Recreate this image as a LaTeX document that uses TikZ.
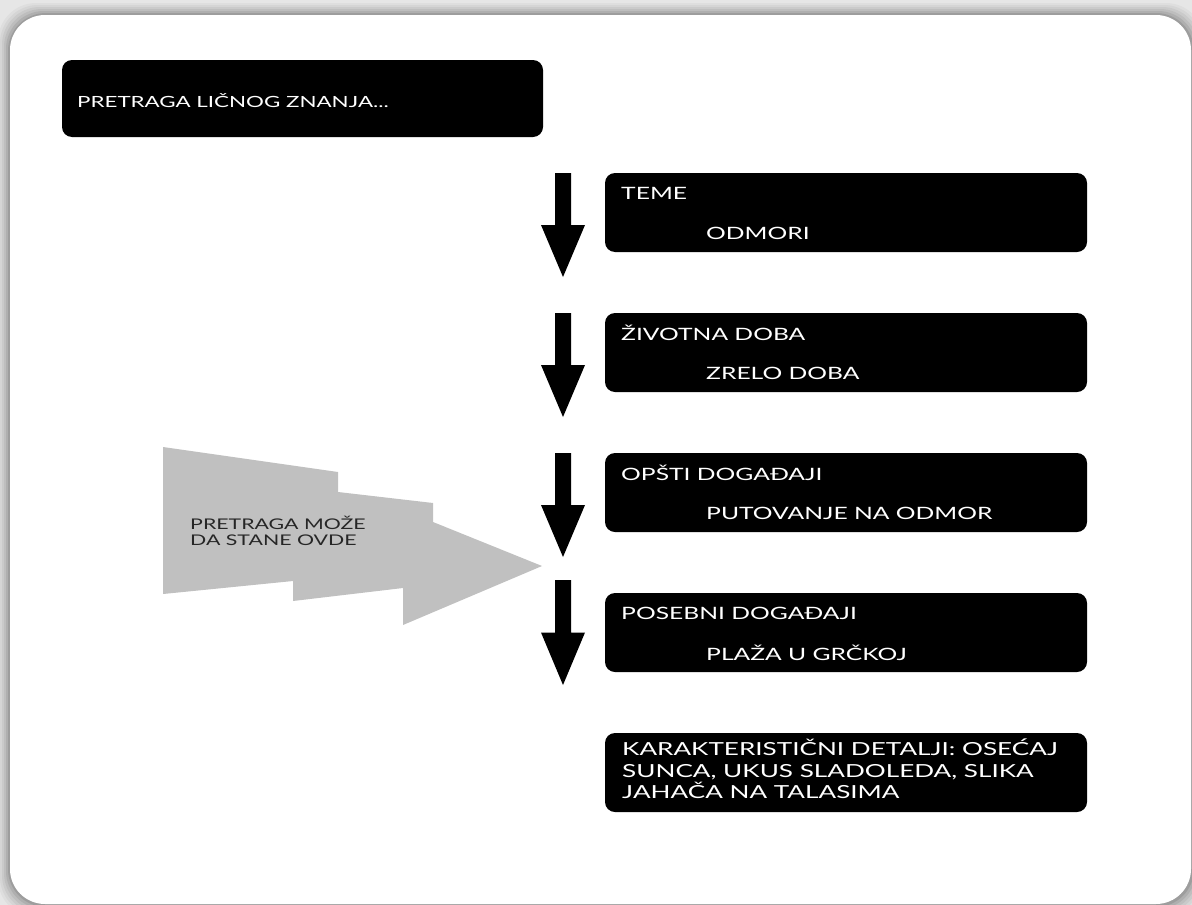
\documentclass[tikz,border=0pt]{standalone}
\usepackage{fontspec}
\setmainfont{Lato}
\newfontfamily\wfont[FakeStretch=1.45]{Lato}
\definecolor{bg}{HTML}{E6E6E6}
\definecolor{chev}{HTML}{C0C0C0}
\tikzset{
  x=1pt, y=-1pt,
  blk/.style={fill=black, rounded corners=10pt, draw=none},
  wtxt/.style={text=white, font=\wfont\fontsize{17}{21}\selectfont, inner sep=0pt, anchor=west},
  gtxt/.style={text=black!85, font=\wfont\fontsize{14.7}{20}\selectfont, inner sep=0pt, anchor=west, align=left},
}
\begin{document}
\begin{tikzpicture}
\useasboundingbox (0,0) rectangle (1192,905);
% background and panel
\fill[bg] (0,0) rectangle (1192,905);
\foreach \d/\o in {12/0.03,10/0.04,8/0.05,6/0.06,4/0.08,2/0.1}{
  \fill[black, opacity=\o, rounded corners=38pt] (10-\d,15-\d) rectangle (1192+\d,905+\d);
}
\fill[white, rounded corners=35pt] (10,15) rectangle (1191,904);

% gray chevron
\fill[chev] (163,447) -- (338,472) -- (338,492) -- (433,503) -- (433,522) -- (542,566)
  -- (403,625) -- (403,588) -- (293,601) -- (293,581) -- (163,594) -- cycle;
\node[gtxt, anchor=north west] (stop) at (190,516) {PRETRAGA MOŽE\\[-4pt]DA STANE OVDE};

% boxes
\path[blk] (62,60) rectangle (543,137);
\node[wtxt, font=\wfont\fontsize{15.4}{20}\selectfont] (t0) at (77,101) {PRETRAGA LIČNOG ZNANJA...};

\path[blk] (605,173) rectangle (1087,252);
\node[wtxt] (t1a) at (621,193) {TEME};
\node[wtxt] (t1b) at (706,233) {ODMORI};

\path[blk] (605,313) rectangle (1087,392);
\node[wtxt] (t2a) at (621,333) {ŽIVOTNA DOBA};
\node[wtxt] (t2b) at (706,373) {ZRELO DOBA};

\path[blk] (605,453) rectangle (1087,532);
\node[wtxt] (t3a) at (621,473) {OPŠTI DOGAĐAJI};
\node[wtxt] (t3b) at (706,513) {PUTOVANJE NA ODMOR};

\path[blk] (605,593) rectangle (1087,672);
\node[wtxt] (t4a) at (621,613) {POSEBNI DOGAĐAJI};
\node[wtxt] (t4b) at (706,653) {PLAŽA U GRČKOJ};

\path[blk] (605,733) rectangle (1087,812);
\node[wtxt, anchor=north west, align=left, font=\wfont\fontsize{18}{21.5}\selectfont] (t5) at (622,739)
  {KARAKTERISTIČNI DETALJI: OSEĆAJ\\SUNCA, UKUS SLADOLEDA, SLIKA\\JAHAČA NA TALASIMA};

% block arrows
\foreach \y/\h in {173/104,313/104,453/104,580/105}{
  \fill[black] (555,\y) -- (571,\y) -- (571,\y+0.5*\h) -- (585,\y+0.5*\h) -- (563,\y+\h)
    -- (541,\y+0.5*\h) -- (555,\y+0.5*\h) -- cycle;
}
\end{tikzpicture}
\end{document}
